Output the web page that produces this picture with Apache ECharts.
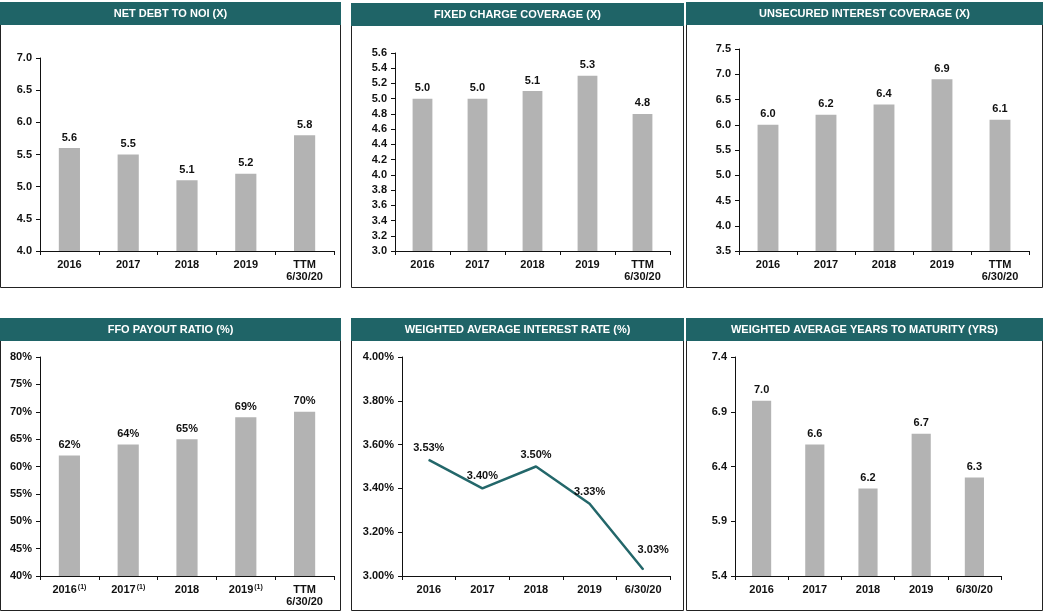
<!DOCTYPE html>
<html>
<head>
<meta charset="utf-8">
<script src="https://cdn.jsdelivr.net/npm/echarts@6/dist/echarts.min.js"></script>
<style>
html, body { margin: 0; padding: 0; background: #fff; }
#main { width: 1044px; height: 612px; }
</style>
</head>
<body>
<div id="main"></div>
<script>
// categories
var yearCats = ['2016', '2017', '2018', '2019', 'TTM\n6/30/20'];
var dateCats = ['2016', '2017', '2018', '2019', '6/30/20'];
var ffoNotes = [1, 1, 0, 1, 0]; // footnote (1) on these years

// values
var netDebt = [5.6, 5.5, 5.1, 5.2, 5.8];
var fixedCharge = [5.0, 5.0, 5.1, 5.3, 4.8];
var unsecuredCov = [6.0, 6.2, 6.4, 6.9, 6.1];
var ffoPayout = [62, 64, 65, 69, 70];
var interestRate = [3.53, 3.40, 3.50, 3.33, 3.03];
var yearsToMaturity = [7.0, 6.6, 6.2, 6.7, 6.3];

// y tick labels
var netDebtTicks = [4.0, 4.5, 5.0, 5.5, 6.0, 6.5, 7.0];
var fixedChargeTicks = [3.0, 3.2, 3.4, 3.6, 3.8, 4.0, 4.2, 4.4, 4.6, 4.8, 5.0, 5.2, 5.4, 5.6];
var unsecuredTicks = [3.5, 4.0, 4.5, 5.0, 5.5, 6.0, 6.5, 7.0, 7.5];
var ffoTicks = [40, 45, 50, 55, 60, 65, 70, 75, 80];
var rateTicks = [3.00, 3.20, 3.40, 3.60, 3.80, 4.00];
var maturityTicks = [5.4, 5.9, 6.4, 6.9, 7.4];

var titles = [
  'NET DEBT TO NOI (X)',
  'FIXED CHARGE COVERAGE (X)',
  'UNSECURED INTEREST COVERAGE (X)',
  'FFO PAYOUT RATIO (%)',
  'WEIGHTED AVERAGE INTEREST RATE (%)',
  'WEIGHTED AVERAGE YEARS TO MATURITY (YRS)'
];

var FONT = '"Liberation Sans", Arial, sans-serif';
var TEAL = '#1f6467';
var BAR = '#b3b3b3';

// panel boxes [x, y, w, h] and plot areas [left, top, width, height]
var boxes = [
  [0.5, 2.5, 340, 285], [351.5, 3.5, 332, 284], [686.5, 2.5, 356, 285],
  [0.5, 318.5, 340, 292], [351.5, 318.5, 332, 292], [686.5, 318.5, 356, 292]
];
var plots = [
  [40, 58, 294, 193], [395, 53, 275, 198], [739, 49, 290, 202],
  [40, 357, 294, 219], [402, 357, 268, 219], [735, 357, 266, 219]
];

var myChart = echarts.init(document.getElementById('main'));

var graphic = [];
boxes.forEach(function (b, i) {
  graphic.push({
    type: 'rect', shape: { x: b[0], y: b[1], width: b[2], height: b[3] },
    style: { fill: '#fff', stroke: '#222', lineWidth: 1 }, z: -10
  });
  graphic.push({
    type: 'rect', shape: { x: b[0] - 0.5, y: b[1] - 0.5, width: b[2] + 1, height: 23 },
    style: { fill: TEAL }, z: -9
  });
  graphic.push({
    type: 'text', x: b[0] + b[2] / 2, y: b[1] + 11,
    style: { text: titles[i], fill: '#fff', font: 'bold 11px ' + FONT, align: 'center', verticalAlign: 'middle' },
    z: -8
  });
});

var grids = [], xAxes = [], yAxes = [], series = [];

function addPanel(i, cats, data, ticks, yFmt, kind, xFmt, labelFmt) {
  var p = plots[i];
  grids.push({ left: p[0], top: p[1], width: p[2], height: p[3], containLabel: false });
  xAxes.push({
    type: 'category', gridIndex: i, data: cats, boundaryGap: true,
    axisLine: { lineStyle: { color: '#111', width: 1 } },
    axisTick: { show: true, length: 4, lineStyle: { color: '#111' } },
    axisLabel: {
      interval: 0, color: '#111', fontFamily: FONT, fontWeight: 'bold', fontSize: 11,
      lineHeight: 12, margin: 8, formatter: xFmt,
      rich: { sup: { fontSize: 7, fontWeight: 'bold', fontFamily: FONT, color: '#111', verticalAlign: 'top', padding: [0, 0, 6, 1] } }
    },
    splitLine: { show: false }
  });
  yAxes.push({
    type: 'value', gridIndex: i, min: ticks[0], max: ticks[ticks.length - 1],
    axisLine: { show: true, lineStyle: { color: '#111', width: 1 } },
    axisTick: { show: true, length: 4, lineStyle: { color: '#111' }, customValues: ticks },
    axisLabel: {
      color: '#111', fontFamily: FONT, fontWeight: 'bold', fontSize: 11, margin: 8,
      customValues: ticks, formatter: yFmt
    },
    splitLine: { show: false }
  });
  if (kind === 'bar') {
    series.push({
      type: 'bar', xAxisIndex: i, yAxisIndex: i, data: data, barWidth: '36%',
      itemStyle: { color: BAR },
      label: {
        show: true, position: 'top', distance: 5, color: '#111', fontFamily: FONT,
        fontWeight: 'bold', fontSize: 11, formatter: labelFmt
      },
      silent: true
    });
  } else {
    // last label sits up and to the right of the line end
    var pts = data.map(function (v, k) {
      return k === data.length - 1 ? { value: v, label: { offset: [10, -7] } } : v;
    });
    series.push({
      type: 'line', xAxisIndex: i, yAxisIndex: i, data: pts,
      symbol: 'circle', symbolSize: 1,
      lineStyle: { color: '#23676a', width: 2.5 },
      itemStyle: { color: '#23676a' },
      label: {
        show: true, position: 'top', distance: 6, color: '#111', fontFamily: FONT,
        fontWeight: 'bold', fontSize: 11, formatter: labelFmt
      },
      silent: true
    });
  }
}

function fixed(n) { return function (v) { return Number(v).toFixed(n); }; }
function lbl(n, suffix) { return function (p) { return Number(p.value).toFixed(n) + (suffix || ''); }; }

addPanel(0, yearCats, netDebt, netDebtTicks, fixed(1), 'bar', null, lbl(1));
addPanel(1, yearCats, fixedCharge, fixedChargeTicks, fixed(1), 'bar', null, lbl(1));
addPanel(2, yearCats, unsecuredCov, unsecuredTicks, fixed(1), 'bar', null, lbl(1));
addPanel(3, yearCats, ffoPayout, ffoTicks, function (v) { return v + '%'; }, 'bar',
  function (v, idx) { return ffoNotes[idx] ? v + '{sup|(1)}' : v; }, lbl(0, '%'));
addPanel(4, dateCats, interestRate, rateTicks, function (v) { return Number(v).toFixed(2) + '%'; }, 'line', null, lbl(2, '%'));
addPanel(5, dateCats, yearsToMaturity, maturityTicks, fixed(1), 'bar', null, lbl(1));

option = {
  animation: false,
  backgroundColor: '#fff',
  graphic: graphic,
  grid: grids,
  xAxis: xAxes,
  yAxis: yAxes,
  series: series
};

myChart.setOption(option);
</script>
</body>
</html>
